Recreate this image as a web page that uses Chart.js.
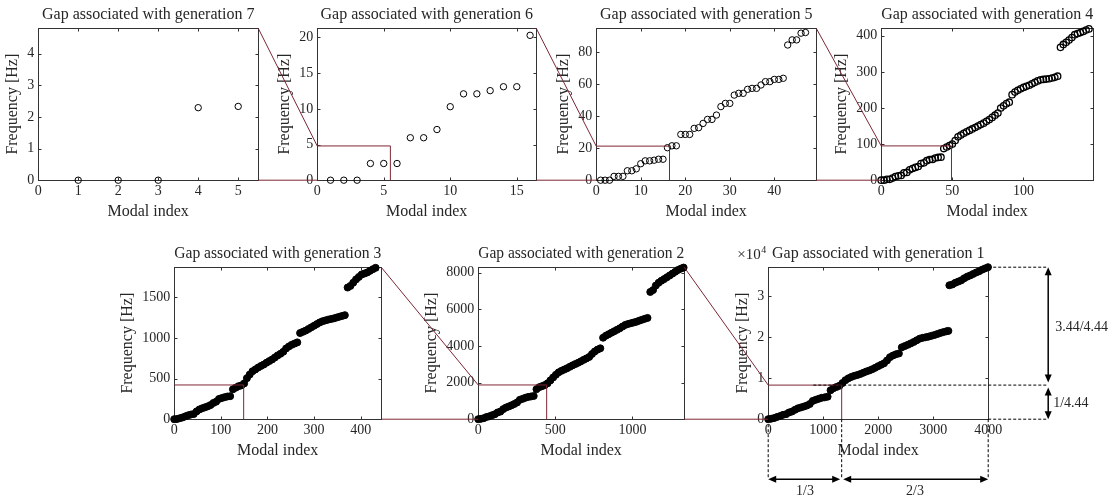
<!DOCTYPE html>
<html>
<head>
<meta charset="utf-8">
<script src="https://cdn.jsdelivr.net/npm/chart.js@4.4.1/dist/chart.umd.min.js"></script>
<style>
  body { margin: 0; background: #fff; }
  #fig { position: relative; width: 1116px; height: 500px; overflow: hidden; background: #fff; }
  #fig canvas { position: absolute; }
  #overlay { left: 0; top: 0; z-index: 10; pointer-events: none; }
</style>
</head>
<body>
<div id="fig"><canvas id="overlay" width="1116" height="500"></canvas></div>
<script>
// Generations, left to right then next row
const generations = [7, 6, 5, 4, 3, 2, 1]

// Axis limits
const xLimits = [5.5, 16.46, 49.4, 149, 444, 1336, 4000]
const yLimits = [4.8, 21.3, 95, 421, 1870, 8300, 37000]

// Tick values
const xTicks = [
  [0, 1, 2, 3, 4, 5],
  [0, 5, 10, 15],
  [0, 10, 20, 30, 40],
  [0, 50, 100],
  [0, 100, 200, 300, 400],
  [0, 500, 1000],
  [0, 1000, 2000, 3000, 4000]
]
const yTicks = [
  [0, 1, 2, 3, 4],
  [0, 5, 10, 15, 20],
  [0, 20, 40, 60, 80],
  [0, 100, 200, 300, 400],
  [0, 500, 1000, 1500],
  [0, 2000, 4000, 6000, 8000],
  [0, 10000, 20000, 30000]
]

// Modal index / frequency [Hz] per generation
const gen7X = [1, 2, 3, 4, 5]
const gen7Y = [0, 0, 0, 2.29, 2.33]

const gen6X = [1, 2, 3, 4, 5, 6, 7, 8, 9, 10, 11, 12, 13, 14, 15, 16]
const gen6Y = [0, 0, 0, 2.34, 2.34, 2.34, 5.95, 5.95, 7.1, 10.3, 12.1, 12.1, 12.55, 13.1, 13.1, 20.3]

const gen5X = [1, 2, 3, 4, 5, 6, 7, 8, 9, 10, 11, 12, 13, 14, 15, 16, 17, 18, 19, 20, 21, 22, 23, 24,
  25, 26, 27, 28, 29, 30, 31, 32, 33, 34, 35, 36, 37, 38, 39, 40, 41, 42, 43, 44, 45, 46, 47]
const gen5Y = [0, 0, 0, 2.4, 2.4, 2.4, 5.9, 5.9, 7.1, 10.3, 12.1, 12.1, 12.5, 13.1, 13.1, 20.3, 21.5, 21.5,
  28.6, 28.6, 28.6, 32.4, 32.8, 35.5, 38, 38, 40.7, 46, 48, 48, 53.2, 54.3, 54.3, 56.8, 57.4, 57.4,
  59.5, 61.6, 61.6, 63, 63, 63.7, 84.5, 87.7, 87.7, 91.9, 92.3]

const gen4X = [0, 2, 4, 6, 8, 10, 12, 14, 16, 18, 20, 22, 24, 26, 28, 30, 32, 34, 36, 38, 40, 42, 44, 46,
  48, 50, 52, 54, 56, 58, 60, 62, 64, 66, 68, 70, 72, 74, 76, 78, 80, 82, 84, 86, 88, 90, 92, 94, 96,
  98, 100, 102, 104, 106, 108, 110, 112, 114, 116, 118, 120, 122, 124, 126, 128, 130, 132, 134, 136,
  138, 140, 142, 144, 146]
const gen4Y = [0, 0, 2.4, 2.4, 5.9, 10.3, 12.1, 13.1, 20.3, 21.5, 28.6, 32.4, 35.5, 38, 46, 48, 54, 57,
  57.5, 61.5, 63, 63.7, 87.7, 92, 96, 100, 110, 120, 125, 130, 134, 138, 142, 146, 150, 154, 158, 163,
  168, 174, 180, 186, 200, 206, 212, 216, 237, 244, 249, 253, 257, 260, 263, 267, 271, 275, 278, 279,
  280, 281, 283, 285, 288, 368, 376, 382, 388, 395, 403, 406, 409, 412, 416, 419]

const gen3X = [0, 6, 12, 18, 24, 30, 36, 42, 48, 54, 60, 66, 72, 78, 84, 90, 96, 102, 108, 114, 120, 126,
  132, 138, 144, 150, 156, 162, 168, 174, 180, 186, 192, 198, 204, 210, 216, 222, 228, 234, 240, 246,
  252, 258, 264, 270, 276, 282, 288, 294, 300, 306, 312, 318, 324, 330, 336, 342, 348, 354, 360, 366,
  372, 378, 384, 390, 396, 402, 408, 414, 420, 426, 432]
const gen3Y = [0, 2.4, 12.1, 21.5, 35.5, 48, 57.5, 63.7, 96, 120, 134, 146, 158, 174, 200, 216, 249, 260,
  271, 279, 283, 368, 388, 406, 416, 440, 505, 550, 590, 612, 635, 655, 672, 695, 715, 735, 760, 785,
  805, 830, 870, 895, 915, 930, 945, 1060, 1075, 1090, 1110, 1130, 1150, 1170, 1190, 1205, 1215, 1225,
  1232, 1240, 1250, 1260, 1270, 1280, 1620, 1640, 1680, 1720, 1750, 1780, 1792, 1805, 1825, 1845, 1862]

const gen2X = [0, 18, 36, 54, 72, 90, 108, 126, 144, 162, 180, 198, 216, 234, 252, 270, 288, 306, 324,
  342, 360, 378, 396, 414, 432, 450, 468, 486, 504, 522, 540, 558, 576, 594, 612, 630, 648, 666, 684,
  702, 720, 738, 756, 774, 792, 810, 828, 846, 864, 882, 900, 918, 936, 954, 972, 990, 1008, 1026,
  1044, 1062, 1080, 1098, 1116, 1134, 1152, 1170, 1188, 1206, 1224, 1242, 1260, 1278, 1296, 1314, 1332]
const gen2Y = [0, 21.5, 57.5, 120, 158, 216, 271, 368, 416, 550, 635, 695, 760, 830, 915, 1060, 1110,
  1170, 1215, 1240, 1270, 1640, 1750, 1805, 1862, 1960, 2120, 2280, 2430, 2560, 2640, 2710, 2780, 2860,
  2940, 3010, 3080, 3160, 3240, 3320, 3400, 3560, 3700, 3800, 3870, 4450, 4560, 4640, 4720, 4800, 4880,
  4960, 5060, 5150, 5200, 5240, 5280, 5320, 5380, 5430, 5480, 5530, 6950, 7050, 7300, 7450, 7560, 7650,
  7750, 7850, 7950, 8050, 8150, 8220, 8280]

const gen1X = [0, 54, 108, 162, 216, 270, 324, 378, 432, 486, 540, 594, 648, 702, 756, 810, 864, 918,
  972, 1026, 1080, 1134, 1188, 1242, 1296, 1350, 1404, 1458, 1512, 1566, 1620, 1674, 1728, 1782, 1836,
  1890, 1944, 1998, 2052, 2106, 2160, 2214, 2268, 2322, 2376, 2430, 2484, 2538, 2592, 2646, 2700, 2754,
  2808, 2862, 2916, 2970, 3024, 3078, 3132, 3186, 3240, 3276, 3294, 3348, 3402, 3456, 3510, 3564, 3618,
  3672, 3726, 3780, 3834, 3888, 3942, 3996]
const gen1Y = [0, 120, 271, 550, 760, 1060, 1215, 1640, 1862, 2280, 2640, 2860, 3080, 3320, 3700, 4450,
  4720, 4960, 5200, 5320, 5480, 7050, 7560, 7850, 8150, 8800, 9500, 9950, 10300, 10550, 10750, 11000,
  11300, 11600, 11850, 12150, 12500, 12900, 13250, 13600, 14300, 15100, 15500, 15800, 16000, 17500,
  17800, 18100, 18450, 18800, 19200, 19600, 19800, 19950, 20100, 20300, 20500, 20750, 21000, 21200,
  21400, 21500, 32600, 32800, 33200, 33500, 33800, 34300, 34700, 35000, 35350, 35700, 36000, 36400,
  36700, 37000]

const seriesX = [gen7X, gen6X, gen5X, gen4X, gen3X, gen2X, gen1X]
const seriesY = [gen7Y, gen6Y, gen5Y, gen4Y, gen3Y, gen2Y, gen1Y]

// Annotation texts for the last panel
const heightLabels = ['3.44/4.44', '1/4.44']
const widthLabels = ['1/3', '2/3']

const SERIF = '"Liberation Serif", "Times New Roman", serif'
const INK = '#262626'
const RED = '#7d2734'

// Plot areas on the page [left, top, width, height]
const areas = [
  [38, 28, 220, 152], [317, 28, 219, 152], [596, 28, 220, 152], [881, 28, 212, 152],
  [174, 267, 207, 152], [478, 267, 206, 152], [768, 267, 220, 152]
]
// which panel links to the next one with red lines
const linked = [true, true, true, false, true, true, false]

const fig = document.getElementById('fig')

// Box round the axes with inward ticks, MATLAB style
const framePlugin = {
  id: 'frame',
  beforeDatasetsDraw(chart) {
    const { ctx, chartArea: a, scales: { x, y } } = chart
    const l = Math.round(a.left) + 0.5, r = Math.round(a.right) + 0.5
    const t = Math.round(a.top) + 0.5, b = Math.round(a.bottom) + 0.5
    ctx.save()
    ctx.strokeStyle = '#333'
    ctx.lineWidth = 1
    ctx.strokeRect(l, t, r - l, b - t)
    ctx.beginPath()
    x.ticks.forEach(tk => {
      const p = Math.round(x.getPixelForValue(tk.value)) + 0.5
      ctx.moveTo(p, b); ctx.lineTo(p, b - 3)
      ctx.moveTo(p, t); ctx.lineTo(p, t + 3)
    })
    y.ticks.forEach(tk => {
      const p = Math.round(y.getPixelForValue(tk.value)) + 0.5
      ctx.moveTo(l, p); ctx.lineTo(l + 3, p)
      ctx.moveTo(r, p); ctx.lineTo(r - 3, p)
    })
    ctx.stroke()
    ctx.restore()
  }
}

function makePanel(i) {
  const [L, T, W, H] = areas[i]
  const dense = i >= 4
  const yUnit = i === 6 ? 10000 : 1
  const c = document.createElement('canvas')
  c.width = W + 130
  c.height = H + 110
  fig.appendChild(c)

  const chart = new Chart(c, {
    type: 'scatter',
    data: {
      datasets: [{
        data: seriesX[i].map((x, k) => ({ x: x, y: seriesY[i][k] })),
        pointRadius: dense ? 3.5 : 3.2,
        borderWidth: i === 3 ? 1.3 : 1,
        borderColor: '#000',
        backgroundColor: dense ? '#000' : 'rgba(0,0,0,0)',
        clip: false
      }]
    },
    options: {
      responsive: false,
      animation: false,
      devicePixelRatio: 1,
      layout: { padding: { left: 0, right: 30, top: 0, bottom: 10 } },
      plugins: {
        legend: { display: false },
        tooltip: { enabled: false },
        title: {
          display: true,
          text: 'Gap associated with generation ' + generations[i],
          fullSize: false,
          color: INK,
          font: { family: SERIF, size: 16, weight: 'normal' },
          padding: { top: 2, bottom: 4 }
        }
      },
      scales: {
        x: {
          type: 'linear',
          min: 0,
          max: xLimits[i],
          afterBuildTicks: s => { s.ticks = xTicks[i].map(v => ({ value: v })) },
          grid: { display: false, drawTicks: false },
          border: { display: false },
          ticks: { color: INK, font: { family: SERIF, size: 14, lineHeight: 1 }, padding: 4, maxRotation: 0, autoSkip: false, callback: v => v },
          title: { display: true, text: 'Modal index', color: INK, font: { family: SERIF, size: 16 }, padding: { top: 0, bottom: 0 } }
        },
        y: {
          type: 'linear',
          min: 0,
          max: yLimits[i],
          afterBuildTicks: s => { s.ticks = yTicks[i].map(v => ({ value: v })) },
          grid: { display: false, drawTicks: false },
          border: { display: false },
          ticks: { color: INK, font: { family: SERIF, size: 14 }, padding: 4, autoSkip: false, callback: v => v / yUnit },
          title: { display: true, text: 'Frequency [Hz]', color: INK, font: { family: SERIF, size: 16 }, padding: { top: 0, bottom: 1 } }
        }
      }
    },
    plugins: [framePlugin]
  })

  // Make the plot area the size of the reference, then move the canvas there
  const ca = chart.chartArea
  const pad = chart.options.layout.padding
  pad.right += (ca.right - ca.left) - W
  pad.bottom += (ca.bottom - ca.top) - H
  chart.update('none')
  const a = chart.chartArea
  c.style.left = Math.round(L - a.left) + 'px'
  c.style.top = Math.round(T - a.top) + 'px'
  return chart
}

const charts = areas.map((_, i) => makePanel(i))

// Page coordinates from a chart's own scales
const px = (ch, v) => ch.canvas.offsetLeft + ch.scales.x.getPixelForValue(v)
const py = (ch, v) => ch.canvas.offsetTop + ch.scales.y.getPixelForValue(v)

const ov = document.getElementById('overlay').getContext('2d')

// Red zoom boxes and the lines linking each panel to the next
ov.strokeStyle = RED
ov.lineWidth = 1
for (let i = 1; i < charts.length; i++) {
  const ch = charts[i], prev = charts[i - 1]
  const bx = xLimits[i - 1], by = yLimits[i - 1]
  ov.beginPath()
  ov.moveTo(px(ch, 0), py(ch, by))
  ov.lineTo(px(ch, bx), py(ch, by))
  ov.lineTo(px(ch, bx), py(ch, 0))
  if (linked[i - 1]) {
    ov.moveTo(px(prev, xLimits[i - 1]), py(prev, yLimits[i - 1]))
    ov.lineTo(px(ch, 0), py(ch, by))
    ov.moveTo(px(prev, xLimits[i - 1]), py(prev, 0))
    ov.lineTo(px(ch, 0), py(ch, 0))
  }
  ov.stroke()
}

// Dimension marks on generation 1
function head(x, y, dx, dy) {
  ov.beginPath()
  ov.moveTo(x, y)
  ov.lineTo(x - dx * 8 - dy * 3.5, y - dy * 8 + dx * 3.5)
  ov.lineTo(x - dx * 8 + dy * 3.5, y - dy * 8 - dx * 3.5)
  ov.closePath()
  ov.fill()
}
function doubleArrow(x1, y1, x2, y2) {
  const len = Math.hypot(x2 - x1, y2 - y1)
  const dx = (x2 - x1) / len, dy = (y2 - y1) / len
  ov.setLineDash([])
  ov.lineWidth = 1.5
  ov.beginPath()
  ov.moveTo(x1 + dx * 4, y1 + dy * 4)
  ov.lineTo(x2 - dx * 4, y2 - dy * 4)
  ov.stroke()
  head(x2, y2, dx, dy)
  head(x1, y1, -dx, -dy)
}

const g1 = charts[6]
const xL = px(g1, 0), xB = px(g1, xLimits[5]), xR = px(g1, xLimits[6])
const yT = py(g1, yLimits[6]), yB = py(g1, yLimits[5]), y0 = py(g1, 0)
const xA = xR + 60, yA = y0 + 60

ov.strokeStyle = '#000'
ov.fillStyle = '#000'
ov.lineWidth = 1
ov.setLineDash([3, 2])
ov.beginPath()
ov.moveTo(xR, yT); ov.lineTo(xA, yT)
ov.moveTo(px(g1, 820), yB); ov.lineTo(xA, yB)
ov.moveTo(xR, y0); ov.lineTo(xA, y0)
;[xL, xB, xR].forEach(x => { ov.moveTo(x, y0); ov.lineTo(x, yA) })
ov.stroke()

doubleArrow(xA, yT, xA, yB - 2.5)
doubleArrow(xA, yB + 2.5, xA, y0)
doubleArrow(xL, yA, xB - 1.5, yA)
doubleArrow(xB + 1.5, yA, xR, yA)

ov.fillStyle = INK
ov.font = '14px ' + SERIF
ov.textBaseline = 'middle'
ov.textAlign = 'left'
ov.fillText(heightLabels[0], xA + 7, (yT + yB) / 2 + 1)
ov.fillText(heightLabels[1], xA + 5, (yB + y0) / 2 + 1)
ov.textAlign = 'center'
ov.fillText(widthLabels[0], (xL + xB) / 2, yA + 12)
ov.fillText(widthLabels[1], (xB + xR) / 2, yA + 12)

// Exponent of the y axis of generation 1
ov.textAlign = 'left'
ov.textBaseline = 'alphabetic'
ov.font = '15px ' + SERIF
ov.fillText('\u00d710', xL - 31, yT - 8)
const w10 = ov.measureText('\u00d710').width
ov.font = '10px ' + SERIF
ov.fillText('4', xL - 31 + w10 + 0.5, yT - 14)
</script>
</body>
</html>
